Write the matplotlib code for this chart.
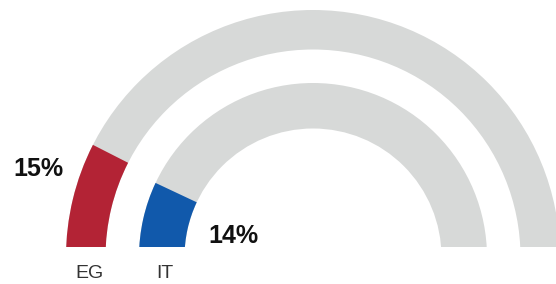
import matplotlib.pyplot as plt
from matplotlib.patches import Wedge, Rectangle

# gauge data
categories = ["EG", "IT"]
values = [15, 14]          # percent
labels = ["15%", "14%"]
colors = ["#B32335", "#1159AB"]
track_color = "#D7D9D8"

# ring geometry (outer radius, width) in pixels, center at (0, 0)
rings = [(247, 39.5), (174, 45.5)]
label_pos = [(-275, 88), (-80, 21)]

plt.rcParams['font.family'] = ['Liberation Sans', 'DejaVu Sans']

fig = plt.figure(figsize=(5.56, 2.84), dpi=100)
ax = fig.add_axes([0, 0, 1, 1])
ax.set_xlim(-313, 243)
ax.set_ylim(-27, 257)
ax.axis('off')

clip = Rectangle((-400, 10), 800, 400, transform=ax.transData)

for (r, w), v, c, cat, lab, pos in zip(rings, values, colors, categories, labels, label_pos):
    bg = Wedge((0, 0), r, 0, 180, width=w, facecolor=track_color, edgecolor='none')
    ax.add_patch(bg)
    bg.set_clip_path(clip)
    fg = Wedge((0, 0), r, 180 - v / 100 * 180, 180, width=w, facecolor=c, edgecolor='none')
    ax.add_patch(fg)
    fg.set_clip_path(clip)
    ax.text(pos[0], pos[1], lab, ha='center', va='center', fontsize=18,
            fontweight='bold', color='#111111')
    ax.text(-(r - w / 2) + 3.5, -17, cat, ha='center', va='center',
            fontsize=14, color='#333333')

fig.savefig("out.png", dpi=100)
